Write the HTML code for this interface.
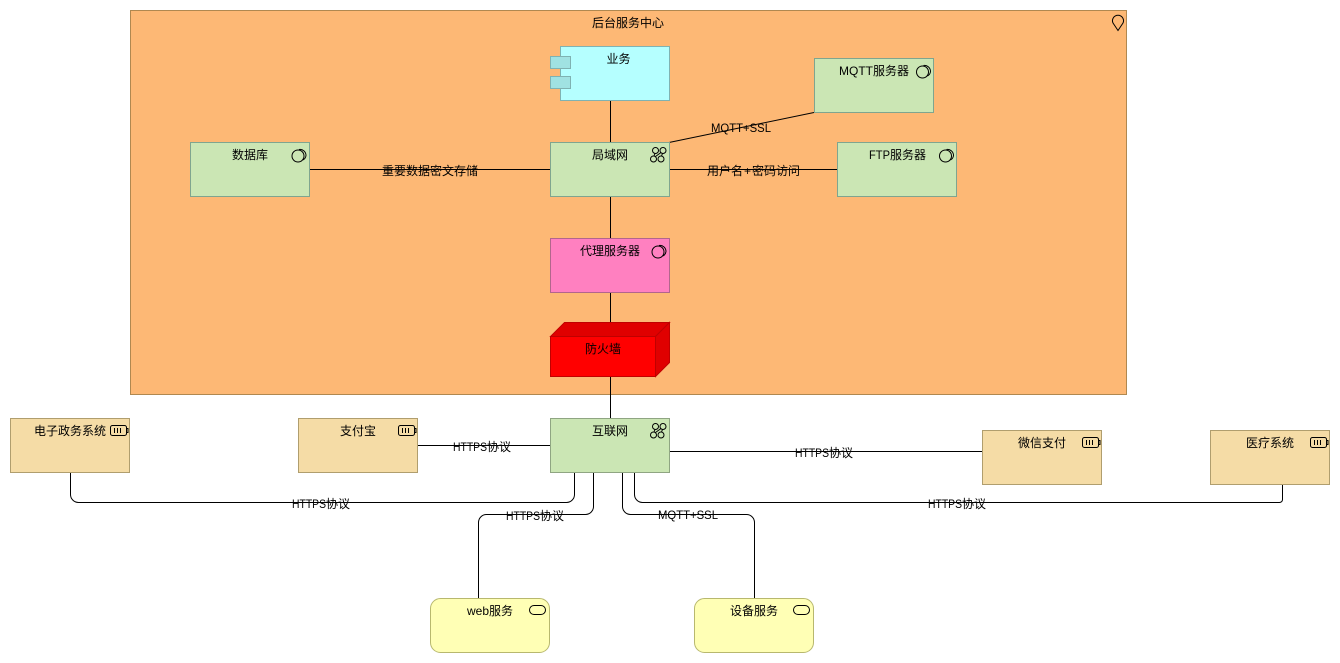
<!DOCTYPE html>
<html>
<head>
<meta charset="utf-8">
<style>
html,body{margin:0;padding:0;background:#fff;width:1340px;height:663px;overflow:hidden}
svg{display:block}
text{font-family:"Liberation Sans","Noto Sans CJK SC",sans-serif;font-size:12px;fill:#000}
.l{fill:none;stroke:#000;stroke-width:1}
.i{fill:none;stroke:#000;stroke-width:1}
.g{fill:#CBE6B4;stroke:#7FA58F}
.b{fill:#F5DCA6;stroke:#B09E6E}
.y{fill:#FFFFB5;stroke:#B8B86E}
</style>
</head>
<body>
<svg width="1340" height="663" viewBox="0 0 1340 663" xmlns="http://www.w3.org/2000/svg">
<!-- group -->
<rect x="130.5" y="10.5" width="996" height="384" fill="#FDB875" stroke="#B08850"/>
<path class="i" d="M1118 30.500L1113 23A5.500 5.500 0 1 1 1123 23Z"/>
<text x="592" y="27">后台服务中心</text>

<!-- connectors -->
<path class="l" d="M610.500 100V142M610.500 196V238M610.500 292V336M610.500 376V418"/>
<path class="l" d="M669 142.500L814 112.500"/>
<path class="l" d="M309 169.500H550M669 169.500H837"/>
<path class="l" d="M417 445.500H550M669 451.500H982"/>
<path class="l" d="M70.500 472V494.500A8 8 0 0 0 78.500 502.500H566.500A8 8 0 0 0 574.500 494.500V472"/>
<path class="l" d="M478.500 598V522.500A8 8 0 0 1 486.500 514.500H585.500A8 8 0 0 0 593.500 506.500V472"/>
<path class="l" d="M754.500 598V522.500A8 8 0 0 0 746.500 514.500H630.500A8 8 0 0 1 622.500 506.500V472"/>
<path class="l" d="M1282.500 484V499.500A3 3 0 0 1 1279.500 502.500H642.500A8 8 0 0 1 634.500 494.500V472"/>

<!-- 业务 -->
<rect x="560.500" y="46.500" width="109" height="54" fill="#B5FFFF" stroke="#7FB2B2"/>
<rect x="550.500" y="56.500" width="20" height="12" fill="#A0E2E2" stroke="#7FB2B2"/>
<rect x="550.500" y="76.500" width="20" height="12" fill="#A0E2E2" stroke="#7FB2B2"/>
<text x="606.500" y="63">业务</text>

<!-- MQTT -->
<rect class="g" x="814.500" y="58.500" width="119" height="54"/>
<text x="839" y="75">MQTT服务器</text>
<circle class="i" cx="922.500" cy="72" r="6"/><path class="i" d="M923.500 65.500A6 6 0 0 1 930.500 71.500A6 6 0 0 1 927.500 76"/>

<!-- 局域网 -->
<rect class="g" x="550.500" y="142.500" width="119" height="54"/>
<text x="592" y="159">局域网</text>
<circle class="i" cx="655.500" cy="150.500" r="3"/><circle class="i" cx="663" cy="150.500" r="3"/><circle class="i" cx="653.500" cy="159" r="3"/><circle class="i" cx="661" cy="159" r="3"/><path class="i" d="M655 153.500L654 156M662.500 153.500L661.500 156M655.500 156.500L661 152.500"/>

<!-- FTP -->
<rect class="g" x="837.500" y="142.500" width="119" height="54"/>
<text x="869" y="159"><tspan textLength="21" lengthAdjust="spacingAndGlyphs">FTP</tspan><tspan x="890">服务器</tspan></text>
<circle class="i" cx="945.500" cy="156" r="6"/><path class="i" d="M946.500 149.500A6 6 0 0 1 953.500 155.500A6 6 0 0 1 950.500 160"/>

<!-- 数据库 -->
<rect class="g" x="190.500" y="142.500" width="119" height="54"/>
<text x="232" y="159">数据库</text>
<circle class="i" cx="298" cy="156" r="6"/><path class="i" d="M299 149.500A6 6 0 0 1 306 155.500A6 6 0 0 1 303 160"/>

<!-- 代理服务器 -->
<rect x="550.500" y="238.500" width="119" height="54" fill="#FF80C0" stroke="#B2668C"/>
<text x="580" y="255">代理服务器</text>
<circle class="i" cx="658" cy="252" r="6"/><path class="i" d="M659 245.500A6 6 0 0 1 666 251.500A6 6 0 0 1 663 256"/>

<!-- 防火墙 -->
<path d="M550.500 336.500L564.500 322.500H669.500L655.500 336.500Z" fill="#E00000" stroke="#C00000"/>
<path d="M655.500 336.500L669.500 322.500V362.500L655.500 376.500Z" fill="#E00000" stroke="#C00000"/>
<rect x="550.500" y="336.500" width="105" height="40" fill="#FF0000" stroke="#C00000"/>
<text x="585" y="353">防火墙</text>

<!-- 互联网 -->
<rect class="g" x="550.500" y="418.500" width="119" height="54" style="stroke:#8FA582"/>
<text x="592" y="435">互联网</text>
<circle class="i" cx="655.500" cy="426.500" r="3"/><circle class="i" cx="663" cy="426.500" r="3"/><circle class="i" cx="653.500" cy="435" r="3"/><circle class="i" cx="661" cy="435" r="3"/><path class="i" d="M655 429.500L654 432M662.500 429.500L661.500 432M655.500 432.500L661 428.500"/>

<!-- 电子政务系统 -->
<rect class="b" x="10.500" y="418.500" width="119" height="54"/>
<text x="34" y="435">电子政务系统</text>
<rect class="i" x="110.500" y="425.500" width="16" height="10" rx="2"/><path class="i" d="M114.500 428V433M117.500 428V433M120.500 428V433M126.500 428.500H128V432.500H126.500"/>

<!-- 支付宝 -->
<rect class="b" x="298.500" y="418.500" width="119" height="54"/>
<text x="340" y="435">支付宝</text>
<rect class="i" x="398.500" y="425.500" width="16" height="10" rx="2"/><path class="i" d="M402.500 428V433M405.500 428V433M408.500 428V433M414.500 428.500H416V432.500H414.500"/>

<!-- 微信支付 -->
<rect class="b" x="982.500" y="430.500" width="119" height="54"/>
<text x="1018" y="447">微信支付</text>
<rect class="i" x="1082.500" y="437.500" width="16" height="10" rx="2"/><path class="i" d="M1086.500 440V445M1089.500 440V445M1092.500 440V445M1098.500 440.500H1100V444.500H1098.500"/>

<!-- 医疗系统 -->
<rect class="b" x="1210.500" y="430.500" width="119" height="54"/>
<text x="1246" y="447">医疗系统</text>
<rect class="i" x="1310.500" y="437.500" width="16" height="10" rx="2"/><path class="i" d="M1314.500 440V445M1317.500 440V445M1320.500 440V445M1326.500 440.500H1328V444.500H1326.500"/>

<!-- web服务 -->
<rect class="y" x="430.500" y="598.500" width="119" height="54" rx="10" ry="10"/>
<text x="467" y="615">web服务</text>
<rect class="i" x="529.500" y="605.500" width="16" height="9" rx="4.500"/>

<!-- 设备服务 -->
<rect class="y" x="694.500" y="598.500" width="119" height="54" rx="10" ry="10"/>
<text x="730" y="615">设备服务</text>
<rect class="i" x="793.500" y="605.500" width="16" height="9" rx="4.500"/>

<!-- connector labels -->
<text x="711" y="132" textLength="60" lengthAdjust="spacingAndGlyphs">MQTT+SSL</text>
<text x="707" y="175">用户名<tspan dx="1">+</tspan><tspan dx="1">密码访问</tspan></text>
<text x="382" y="175">重要数据密文存储</text>
<text x="453" y="451"><tspan textLength="34" lengthAdjust="spacingAndGlyphs">HTTPS</tspan><tspan x="487">协议</tspan></text>
<text x="795" y="457"><tspan textLength="34" lengthAdjust="spacingAndGlyphs">HTTPS</tspan><tspan x="829">协议</tspan></text>
<text x="292" y="508"><tspan textLength="34" lengthAdjust="spacingAndGlyphs">HTTPS</tspan><tspan x="326">协议</tspan></text>
<text x="506" y="520"><tspan textLength="34" lengthAdjust="spacingAndGlyphs">HTTPS</tspan><tspan x="540">协议</tspan></text>
<text x="658" y="519" textLength="60" lengthAdjust="spacingAndGlyphs">MQTT+SSL</text>
<text x="928" y="508"><tspan textLength="34" lengthAdjust="spacingAndGlyphs">HTTPS</tspan><tspan x="962">协议</tspan></text>
</svg>
</body>
</html>
